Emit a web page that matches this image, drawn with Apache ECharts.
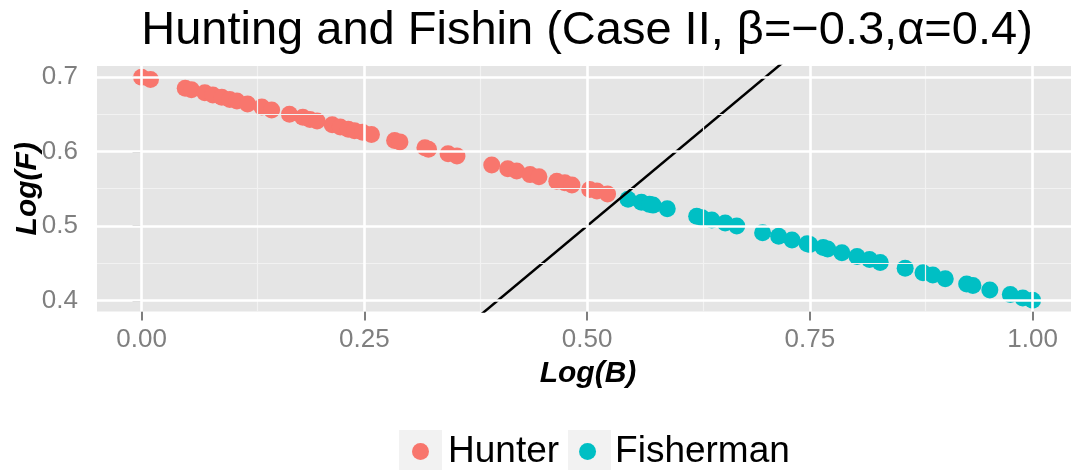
<!DOCTYPE html>
<html>
<head>
<meta charset="utf-8">
<script src="https://cdn.jsdelivr.net/npm/echarts@6/dist/echarts.min.js"></script>
<style>
html,body{margin:0;padding:0;background:#fff;}
#chart{width:1071px;height:470px;}
</style>
</head>
<body>
<div id="chart"></div>
<script>
// ---- data ----
const titleText = 'Hunting and Fishin (Case II, \u03B2=\u22120.3,\u03B1=0.4)';
const seriesNames = ['Hunter', 'Fisherman'];
const hunterB = [0.000,0.010,0.049,0.056,0.071,0.080,0.090,0.099,0.107,0.119,0.135,0.146,0.166,0.181,0.189,0.197,0.214,0.223,0.232,0.239,0.248,0.258,0.284,0.290,0.318,0.322,0.344,0.354,0.393,0.411,0.421,0.436,0.446,0.466,0.475,0.483,0.503,0.511,0.523];
const hunterF = [0.700,0.697,0.685,0.683,0.679,0.676,0.673,0.670,0.668,0.664,0.660,0.656,0.650,0.646,0.643,0.641,0.636,0.633,0.630,0.628,0.626,0.623,0.615,0.613,0.605,0.603,0.597,0.594,0.582,0.577,0.574,0.569,0.566,0.560,0.558,0.555,0.549,0.547,0.543];
const fisherB = [0.546,0.561,0.570,0.574,0.590,0.623,0.629,0.640,0.655,0.668,0.697,0.715,0.730,0.747,0.750,0.765,0.770,0.786,0.803,0.817,0.829,0.857,0.877,0.888,0.902,0.926,0.933,0.952,0.975,0.989,1.000];
const fisherF = [0.536,0.532,0.529,0.528,0.523,0.513,0.511,0.508,0.504,0.500,0.491,0.486,0.481,0.476,0.475,0.471,0.469,0.464,0.459,0.455,0.451,0.443,0.437,0.434,0.429,0.422,0.420,0.414,0.408,0.403,0.400];
const refLineB = [0.3, 0.8];
const refLineF = [0.3, 0.8];
const xTicks = [0, 0.25, 0.5, 0.75, 1.0];
const xMinor = [0.125, 0.375, 0.625, 0.875];
const yTicks = [0.4, 0.5, 0.6, 0.7];
const yMinor = [0.45, 0.55, 0.65];

const FONT = "'Liberation Sans', Arial, Helvetica, sans-serif";
const zip = (a, b) => a.map((v, i) => [v, b[i]]);

const chart = echarts.init(document.getElementById('chart'), null, {renderer: 'canvas'});

const gridLines = [];
xMinor.forEach(v => gridLines.push({xAxis: v, lineStyle: {color: '#F2F2F2', width: 1.2}}));
yMinor.forEach(v => gridLines.push({yAxis: v, lineStyle: {color: '#F2F2F2', width: 1.2}}));
xTicks.forEach(v => gridLines.push({xAxis: v, lineStyle: {color: '#FFFFFF', width: 2.6}}));
yTicks.forEach(v => gridLines.push({yAxis: v, lineStyle: {color: '#FFFFFF', width: 2.6}}));

chart.setOption({
  animation: false,
  backgroundColor: '#FFFFFF',
  title: {
    text: titleText,
    left: 582, textAlign: 'center',
    top: 3,
    textStyle: {fontFamily: FONT, fontSize: 47, fontWeight: 'normal', color: '#000'}
  },
  grid: {
    left: 97, right: 0, top: 66, bottom: 158.5,
    containLabel: false, outerBoundsMode: 'none',
    show: true, backgroundColor: '#E5E5E5', borderWidth: 0
  },
  legend: {
    data: seriesNames,
    left: 412, top: 433,
    padding: 0,
    icon: 'circle',
    itemWidth: 17, itemHeight: 17,
    itemGap: 20,
    textStyle: {fontFamily: FONT, fontSize: 37, color: '#000', padding: [0, 0, 0, 14]}
  },
  graphic: [
    {type: 'rect', z: -1, shape: {x: 399, y: 430, width: 43, height: 43}, style: {fill: '#F2F2F2'}},
    {type: 'rect', z: -1, shape: {x: 568, y: 430, width: 43, height: 43}, style: {fill: '#F2F2F2'}}
  ],
  xAxis: {
    type: 'value',
    min: -0.05, max: 1.0431,
    name: 'Log(B)', nameLocation: 'middle', nameGap: 47, nameMoveOverlap: false,
    nameTextStyle: {fontFamily: FONT, fontSize: 30, fontWeight: 'bold', fontStyle: 'italic', color: '#000',
      padding: [0, 0, 0, 8]},
    axisLine: {show: false},
    splitLine: {show: false},
    axisTick: {show: true, customValues: xTicks, length: 9, lineStyle: {color: '#7F7F7F', width: 2}},
    axisLabel: {customValues: xTicks, margin: 15, fontFamily: FONT, fontSize: 26, color: '#7F7F7F',
      formatter: v => v.toFixed(2)}
  },
  yAxis: {
    type: 'value',
    min: 0.385, max: 0.715,
    name: 'Log(F)', nameLocation: 'middle', nameGap: 54, nameRotate: 90, nameMoveOverlap: false,
    nameTextStyle: {fontFamily: FONT, fontSize: 30, fontWeight: 'bold', fontStyle: 'italic', color: '#000'},
    axisLine: {show: false},
    splitLine: {show: false},
    axisTick: {show: true, customValues: yTicks, length: 9, lineStyle: {color: '#7F7F7F', width: 2}},
    axisLabel: {customValues: yTicks, margin: 19, fontFamily: FONT, fontSize: 26, color: '#7F7F7F',
      formatter: v => v.toFixed(1)}
  },
  series: [
    {
      type: 'scatter', name: '_grid', data: [], silent: true, z: 1,
      markLine: {silent: true, symbol: 'none', label: {show: false}, animation: false,
        lineStyle: {type: 'solid'}, data: gridLines}
    },
    {
      type: 'scatter', name: seriesNames[0], data: zip(hunterB, hunterF), z: 3,
      symbol: 'circle', symbolSize: 17, itemStyle: {color: '#F8766D', opacity: 1}
    },
    {
      type: 'scatter', name: seriesNames[1], data: zip(fisherB, fisherF), z: 3,
      symbol: 'circle', symbolSize: 17, itemStyle: {color: '#00BFC4', opacity: 1}
    },
    {
      type: 'line', name: '_ref', data: zip(refLineB, refLineF), z: 4, clip: true,
      symbol: 'none', silent: true, lineStyle: {color: '#000', width: 2.5}
    }
  ]
});
</script>
</body>
</html>
